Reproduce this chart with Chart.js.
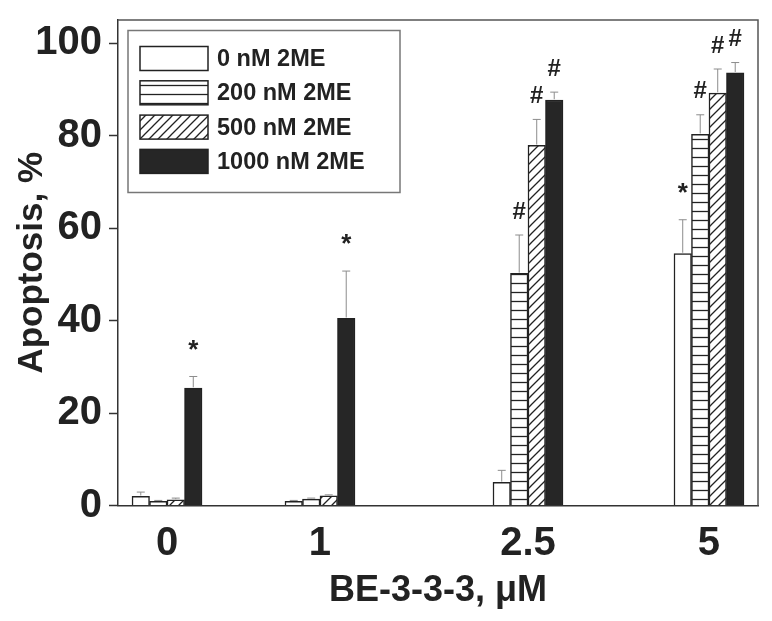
<!DOCTYPE html>
<html><head><meta charset="utf-8">
<script src="https://cdn.jsdelivr.net/npm/chart.js@4/dist/chart.umd.min.js"></script>
<style>html,body{margin:0;padding:0;background:#fff}#wrap{width:772px;height:621px}</style>
</head><body><div id="wrap"><canvas id="c" width="772" height="621"></canvas></div>
<script>
// ---- data ----
const categories = ['0', '1', '2.5', '5'];
const seriesLabels = ['0 nM 2ME', '200 nM 2ME', '500 nM 2ME', '1000 nM 2ME'];
const values0    = [2.0, 0.9, 5.0, 54.5];
const values200  = [0.9, 1.4, 50.2, 80.3];
const values500  = [1.2, 2.1, 77.9, 89.2];
const values1000 = [25.4, 40.5, 87.7, 93.6];
const errors0    = [0.9, 0.2, 2.6, 7.3];
const errors200  = [0.2, 0.2, 8.3, 4.2];
const errors500  = [0.4, 0.2, 5.6, 5.2];
const errors1000 = [2.5, 10.2, 1.7, 2.2];
const marks0    = ['', '', '', '*'];
const marks200  = ['', '', '#', '#'];
const marks500  = ['', '', '#', '#'];
const marks1000 = ['*', '*', '#', '#'];
const yTickLabels = [0, 20, 40, 60, 80, 100];
const xTitle = 'BE-3-3-3, \u03bcM';
const yTitle = 'Apoptosis, %';

const FONT = "'Liberation Sans', Arial, Helvetica, sans-serif";
const INK = '#222';

// category scale whose categories sit at given fractions of the axis length
class PlacedCategoryScale extends Chart.CategoryScale {
  getPixelForValue(value) {
    if (typeof value !== 'number') value = this.parse(value);
    const pos = this.options.positions;
    if (value === null || value === undefined || !pos || pos[value] === undefined) return super.getPixelForValue(value);
    return this.getPixelForDecimal(pos[value]);
  }
}
PlacedCategoryScale.id = 'placedCategory';
PlacedCategoryScale.defaults = Chart.CategoryScale.defaults;
Chart.register(PlacedCategoryScale);

const canvas = document.getElementById('c');
const mainCtx = canvas.getContext('2d');

function makePattern(kind) {
  const s = 9;
  const c = document.createElement('canvas'); c.width = s; c.height = s;
  const g = c.getContext('2d');
  g.fillStyle = '#fff'; g.fillRect(0, 0, s, s);
  g.strokeStyle = INK; g.lineWidth = 1.3; g.lineCap = 'butt';
  g.beginPath();
  if (kind === 'h') {
    g.moveTo(0, 4.5); g.lineTo(s, 4.5);
  } else {
    g.moveTo(-1, s + 1); g.lineTo(s + 1, -1);
    g.moveTo(-1, 1); g.lineTo(1, -1);
    g.moveTo(s - 1, s + 1); g.lineTo(s + 1, s - 1);
  }
  g.stroke();
  return mainCtx.createPattern(c, 'repeat');
}

const fills = ['#ffffff', makePattern('h'), makePattern('d'), '#262626'];
const seriesValues = [values0, values200, values500, values1000];
const seriesErrors = [errors0, errors200, errors500, errors1000];
const seriesMarks = [marks0, marks200, marks500, marks1000];

const datasets = seriesValues.map((vals, i) => ({
  label: seriesLabels[i],
  data: vals,
  backgroundColor: fills[i],
  borderColor: INK,
  borderWidth: 1.5,
  borderSkipped: 'bottom',
  barThickness: 17.5
}));

const errorBarsPlugin = {
  id: 'errorBars',
  afterDatasetsDraw(chart) {
    const ctx = chart.ctx, yS = chart.scales.y;
    ctx.save();
    chart.data.datasets.forEach((ds, di) => {
      const meta = chart.getDatasetMeta(di);
      meta.data.forEach((bar, i) => {
        const v = ds.data[i], e = seriesErrors[di][i];
        const yTop = bar.y - 0.75;
        const yErr = yS.getPixelForValue(v + e);
        ctx.strokeStyle = '#8c8c8c'; ctx.lineWidth = 1;
        ctx.beginPath();
        ctx.moveTo(bar.x, yTop); ctx.lineTo(bar.x, yErr);
        ctx.moveTo(bar.x - 4, yErr); ctx.lineTo(bar.x + 4, yErr);
        ctx.stroke();
        const m = seriesMarks[di][i];
        if (m) {
          ctx.fillStyle = INK;
          ctx.font = 'bold ' + (m === '*' ? 26 : 24) + 'px ' + FONT;
          ctx.textAlign = 'center'; ctx.textBaseline = 'middle';
          ctx.fillText(m, bar.x, yErr - (m === '*' ? 26 : 23));
        }
      });
    });
    ctx.restore();
  }
};

const framePlugin = {
  id: 'frame',
  afterDraw(chart) {
    const {ctx, chartArea: a} = chart;
    ctx.save();
    ctx.strokeStyle = '#555'; ctx.lineWidth = 1.5;
    ctx.beginPath();
    ctx.moveTo(a.left, a.top); ctx.lineTo(a.right, a.top); ctx.lineTo(a.right, a.bottom);
    ctx.stroke();
    // minor y ticks
    const yS = chart.scales.y;
    ctx.strokeStyle = '#333';
    yS.ticks.forEach(t => {
      if (yTickLabels.indexOf(t.value) === -1) {
        const py = yS.getPixelForValue(t.value);
        ctx.beginPath(); ctx.moveTo(a.left - 5, py); ctx.lineTo(a.left, py); ctx.stroke();
      }
    });
    ctx.restore();
  }
};

const legendPlugin = {
  id: 'boxLegend',
  afterDraw(chart) {
    const {ctx, chartArea: a} = chart;
    const bx = a.left + 10, by = a.top + 10.5, bw = 272, bh = 162;
    ctx.save();
    ctx.strokeStyle = '#777'; ctx.lineWidth = 1.5;
    ctx.strokeRect(bx, by, bw, bh);
    chart.data.datasets.forEach((ds, i) => {
      const x = bx + 12, y = by + 16 + i * 34.3;
      ctx.fillStyle = ds.backgroundColor;
      ctx.fillRect(x, y, 68, 24);
      ctx.strokeStyle = INK; ctx.lineWidth = 1.5;
      ctx.strokeRect(x, y, 68, 24);
      ctx.fillStyle = INK;
      ctx.font = 'bold 23.5px ' + FONT;
      ctx.textAlign = 'left'; ctx.textBaseline = 'middle';
      ctx.fillText(ds.label, x + 77, y + 13);
    });
    ctx.restore();
  }
};

new Chart(canvas, {
  type: 'bar',
  data: { labels: categories, datasets },
  plugins: [errorBarsPlugin, framePlugin, legendPlugin],
  options: {
    responsive: false,
    animation: false,
    layout: { padding: { left: 0, right: 14, top: 20, bottom: 0 } },
    plugins: { legend: { display: false }, tooltip: { enabled: false } },
    scales: {
      x: {
        type: 'placedCategory',
        positions: [0.0766, 0.3156, 0.6406, 0.9234],
        grid: { display: false, drawTicks: false },
        border: { display: true, color: '#333', width: 1.5 },
        ticks: { font: { family: FONT, size: 40, weight: 'bold' }, color: INK, padding: 14, maxRotation: 0, autoSkip: false },
        title: { display: true, text: xTitle, color: INK, font: { family: FONT, size: 36, weight: 'bold' }, padding: { top: 1, bottom: 8 } },
        afterFit: s => { s.height = 115.5; s.paddingLeft = 0; s.paddingRight = 0; }
      },
      y: {
        min: 0, max: 105,
        afterBuildTicks: s => {
          const t = [];
          yTickLabels.forEach((v, i) => {
            t.push({ value: v });
            if (i < yTickLabels.length - 1) t.push({ value: (v + yTickLabels[i + 1]) / 2 });
          });
          s.ticks = t;
        },
        afterFit: s => { s.width = 118; s.paddingTop = 0; s.paddingBottom = 0; },
        grid: {
          drawOnChartArea: false, drawTicks: true, tickLength: 9, tickWidth: 1.5,
          tickColor: c => (c.tick && yTickLabels.indexOf(c.tick.value) !== -1) ? '#333' : 'rgba(0,0,0,0)'
        },
        border: { display: true, color: '#333', width: 1.5 },
        ticks: {
          font: { family: FONT, size: 40, weight: 'bold' }, color: INK, padding: 7,
          callback: v => yTickLabels.indexOf(v) !== -1 ? String(v) : ''
        },
        title: { display: true, text: yTitle, color: INK, font: { family: FONT, size: 35, weight: 'bold' }, padding: { top: 11, bottom: -17.7 } }
      }
    }
  }
});
</script>
</body></html>
